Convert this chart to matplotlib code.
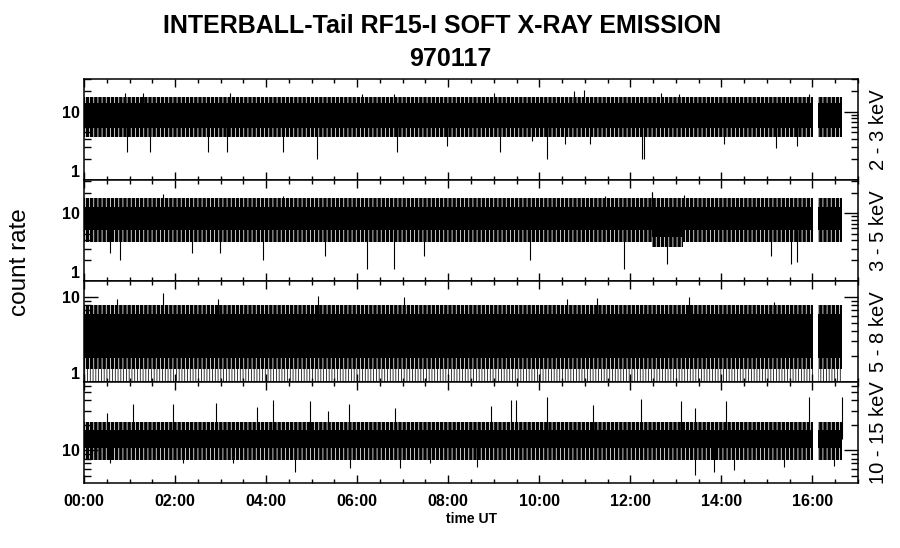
import matplotlib
matplotlib.use("Agg")
import matplotlib.pyplot as plt
from matplotlib.ticker import LogLocator, NullFormatter, MultipleLocator
import numpy as np

plt.rcParams['font.family'] = ['Liberation Sans', 'DejaVu Sans']
plt.rcParams['hatch.linewidth'] = 0.55

nan = float('nan')

# time in hours UT, data gap near 16:00
hours = [0, 2, 4, 6, 8, 10, 12, 14, 16]
hour_labels = ['00:00', '02:00', '04:00', '06:00', '08:00', '10:00', '12:00', '14:00', '16:00']
bands = ['2 - 3 keV', '3 - 5 keV', '5 - 8 keV', '10 - 15 keV']
ylims = [(1, 30), (1, 31), (1, 15.6), (4.1, 67)]

# envelope of the dense noise band: breakpoints and levels (nan = no data)
p1_t = [0, 16.01, 16.12, 16.65]
p1_core = [(5.8, 13.4), (nan, nan), (5.8, 13.4)]
p1_fringe = [(4.3, 16.5), (nan, nan), (4.3, 16.5)]
p1_up_t = [0.90, 1.30, 3.20, 6.10, 6.80, 9.01, 10.77, 10.98, 12.67, 13.06, 15.93]
p1_up_v = [18.8, 18.8, 18.5, 18.2, 17.8, 18.8, 19.9, 20.5, 19.0, 17.8, 17.8]
p1_dn_t = [0.94, 1.45, 2.73, 3.14, 4.38, 5.11, 6.87, 7.97, 9.14, 9.84, 10.17, 10.57, 11.12, 12.26, 12.31, 14.05, 15.19, 15.66]
p1_dn_v = [2.6, 2.6, 2.6, 2.6, 2.6, 2.0, 2.6, 3.1, 2.6, 3.7, 2.0, 3.3, 3.4, 2.0, 2.0, 3.3, 2.9, 3.1]

p2_t = [0, 12.48, 13.15, 16.01, 16.12, 16.65]
p2_core = [(5.7, 12.5), (4.5, 12.5), (5.7, 12.5), (nan, nan), (5.7, 12.5)]
p2_fringe = [(3.7, 16.5), (3.2, 16.5), (3.7, 16.5), (nan, nan), (3.7, 16.5)]
p2_up_t = [1.73, 4.38, 11.45, 12.48, 13.17]
p2_up_v = [19.3, 18.0, 18.0, 20.8, 18.7]
p2_dn_t = [0.57, 0.79, 2.37, 2.99, 3.94, 5.30, 6.21, 6.80, 7.46, 9.80, 11.85, 12.81, 15.08, 15.52, 15.66]
p2_dn_v = [2.6, 2.0, 2.6, 2.6, 2.0, 2.3, 1.5, 1.5, 2.3, 2.0, 1.5, 1.8, 2.3, 1.8, 1.9]

p3_t = [0, 16.01, 16.12, 16.65]
p3_core = [(1.92, 6.3), (nan, nan), (1.92, 6.3)]
p3_fringe = [(1.42, 8.0), (nan, nan), (1.42, 8.0)]
p3_floor = [(1.0, 1.42), (nan, nan), (1.0, 1.42)]
p3_up_t = [0.72, 1.73, 2.95, 5.15, 7.02, 10.61, 11.27, 13.28, 15.15]
p3_up_v = [9.4, 11.3, 9.5, 10.3, 10.0, 9.4, 9.7, 10.0, 8.7]
p3_dn_t = []
p3_dn_v = []

p4_t = [0, 16.01, 16.12, 16.65]
p4_core = [(10.6, 17.7), (nan, nan), (10.6, 17.7)]
p4_fringe = [(7.7, 22.2), (nan, nan), (7.7, 22.2)]
p4_up_t = [0.51, 1.08, 1.95, 2.90, 3.79, 4.15, 4.97, 5.36, 5.81, 6.84, 8.94, 9.38, 9.49,
           10.17, 11.18, 12.24, 13.11, 13.43, 14.11, 15.92, 16.65]
p4_up_v = [28, 36.3, 36.3, 37, 33.2, 40.6, 39, 30, 36.3, 32.2, 34.3, 40.6, 40.6,
           43.8, 35.3, 41.4, 39.8, 32.2, 39.8, 43.8, 43.8]
p4_dn_t = [0.57, 2.18, 3.28, 4.64, 5.85, 6.95, 7.60, 8.63, 13.43, 13.83, 14.27, 15.38, 16.47]
p4_dn_v = [7.0, 7.0, 7.0, 5.55, 6.2, 6.2, 7.0, 6.4, 5.07, 5.55, 5.8, 6.4, 6.6]

panels = [
    (p1_t, p1_core, p1_fringe, None, p1_up_t, p1_up_v, p1_dn_t, p1_dn_v),
    (p2_t, p2_core, p2_fringe, None, p2_up_t, p2_up_v, p2_dn_t, p2_dn_v),
    (p3_t, p3_core, p3_fringe, p3_floor, p3_up_t, p3_up_v, p3_dn_t, p3_dn_v),
    (p4_t, p4_core, p4_fringe, None, p4_up_t, p4_up_v, p4_dn_t, p4_dn_v),
]

fig = plt.figure(figsize=(9, 5.48), dpi=100)
gs = fig.add_gridspec(4, 1, left=84 / 900, right=858 / 900, top=1 - 79 / 548,
                      bottom=1 - 482.7 / 548, hspace=0)

for k, (tt, core, fringe, floor, ut, uv, dt, dv) in enumerate(panels):
    ax = fig.add_subplot(gs[k])
    ax.set_yscale('log')
    for i in range(len(tt) - 1):
        if np.isnan(core[i][0]):
            continue
        x = [tt[i], tt[i + 1]]
        # ragged fringe: mostly black with thin white gaps
        ax.fill_between(x, fringe[i][0], fringe[i][1], facecolor='black',
                        edgecolor='white', hatch='||||', linewidth=0)
        if floor is not None:
            ax.fill_between(x, floor[i][0], floor[i][1], facecolor='white',
                            edgecolor='black', hatch='||||||', linewidth=0)
        ax.fill_between(x, core[i][0], core[i][1], color='black', linewidth=0)
        mid = np.sqrt(core[i][0] * core[i][1])
        for t, v in zip(ut + dt, uv + dv):
            if tt[i] <= t <= tt[i + 1]:
                ax.vlines(t, mid, v, color='black', linewidth=0.8)

    lo, hi = ylims[k]
    ax.set_xlim(0, 17)
    ax.set_ylim(lo, hi)
    dec = [d for d in [1, 10] if lo <= d <= hi]
    ax.set_yticks(dec, [str(d) for d in dec])
    ax.yaxis.set_minor_locator(LogLocator(base=10, subs=np.arange(2, 10)))
    ax.yaxis.set_minor_formatter(NullFormatter())
    ax.xaxis.set_major_locator(MultipleLocator(2))
    ax.xaxis.set_minor_locator(MultipleLocator(0.5))
    ax.tick_params(which='both', direction='in', top=True, right=True, width=1.0,
                   labelsize=11.5)
    ax.tick_params(axis='x', which='major', length=5.5, pad=8)
    ax.tick_params(axis='x', which='minor', length=3)
    ax.tick_params(axis='y', which='major', length=10, pad=3)
    ax.tick_params(axis='y', which='minor', length=5)
    for s in ax.spines.values():
        s.set_linewidth(1.1)
    if k < 3:
        ax.set_xticklabels([])
    else:
        ax.set_xticks(hours, hour_labels)
        ax.set_xlabel('time UT', fontsize=10, fontweight='bold', labelpad=2)
    for lab in ax.get_xticklabels() + ax.get_yticklabels():
        lab.set_fontweight('bold')
    for lab in ax.get_yticklabels():
        if lab.get_text() == '1':
            lab.set_verticalalignment('bottom')
    ax.text(1.026, 0.5, bands[k], transform=ax.transAxes, rotation=90,
            ha='center', va='center', fontsize=14.5)

fig.text(442 / 900, 1 - 26 / 548, 'INTERBALL-Tail RF15-I SOFT X-RAY EMISSION',
         ha='center', va='center', fontsize=18, fontweight='bold')
fig.text(450 / 900, 1 - 59 / 548, '970117', ha='center', va='center',
         fontsize=18, fontweight='bold')
fig.text(20 / 900, 1 - 262 / 548, 'count rate', rotation=90, ha='center',
         va='center', fontsize=17.5)

fig.savefig('out.png', dpi=100)
